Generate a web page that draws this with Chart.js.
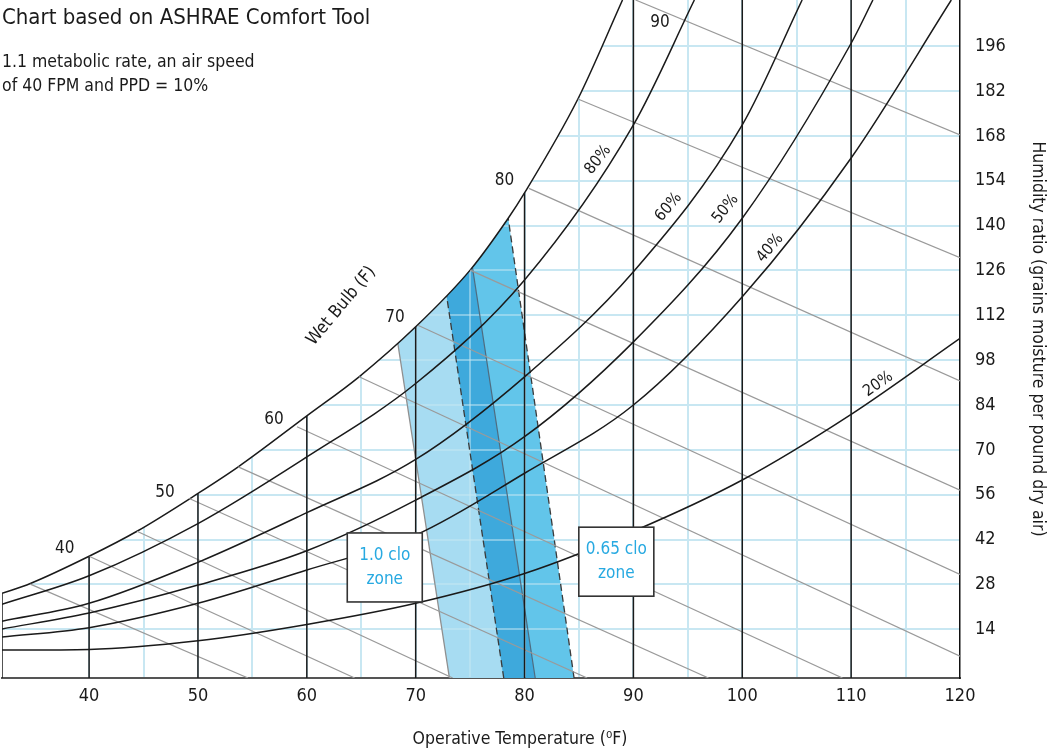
<!DOCTYPE html>
<html>
<head>
<meta charset="utf-8">
<title>Psychrometric chart - ASHRAE comfort zones</title>
<script src="https://cdn.jsdelivr.net/npm/chart.js@4.4.1/dist/chart.umd.min.js"></script>
<style>
  html, body { margin: 0; padding: 0; background: #fff; }
</style>
</head>
<body>
<canvas id="chart" width="1051" height="750"></canvas>
<script>
// axes: operative temperature (F) and humidity ratio (grains / lb dry air)
const xMin = 32, xMax = 120;
const yMin = -1.2, yMax = 210.4;
const xTickLabels = [40, 50, 60, 70, 80, 90, 100, 110, 120];
const xGridTicks = [40, 45, 50, 55, 60, 65, 70, 75, 80, 85, 90, 95, 100, 105, 110, 115, 120];
const yTickLabels = [14, 28, 42, 56, 70, 84, 98, 112, 126, 140, 154, 168, 182, 196];

// relative humidity curves, [temp, grains]
const saturation = [[32, 25.2], [34.6, 28.3], [40, 36.8], [44.4, 44.6], [50, 56.4], [53.7, 64.7], [60, 80.6],
  [64.8, 92.8], [70, 108.4], [75, 126.1], [78.5, 142.3], [80, 150.2], [84.9, 179.5], [89.0, 210.4]];
const rh80 = [[32, 21.8], [40, 30.7], [50, 47.0], [60, 67.8], [70, 90.7], [80, 123.0], [90, 171.4], [95.6, 210.4]];
const rh60 = [[32, 16.5], [40, 22.1], [50, 34.9], [60, 50.4], [70, 67.0], [80, 92.8], [90, 125.6], [100, 171.4], [105.5, 210.4]];
const rh50 = [[32, 14.1], [40, 19.1], [50, 27.8], [60, 38.5], [70, 54.3], [80, 74.1], [90, 103.7], [100, 142.3], [110, 196.9], [112, 210.4]];
const rh40 = [[32, 11.6], [40, 14.5], [50, 22.1], [60, 32.5], [70, 43.4], [80, 62.7], [90, 84.0], [100, 117.8], [110, 161.1], [119.2, 210.4]];
const rh20 = [[32, 7.5], [40, 7.7], [50, 10.4], [60, 15.5], [70, 22.1], [80, 31.4], [90, 44.6], [100, 60.6], [110, 81.1], [120, 104.8]];

// dry bulb lines, bottom up to the saturation curve
const dryBulbTemps = [32, 40, 50, 60, 70, 80, 90, 100, 110];
const dryBulbTops = [25.2, 36.8, 56.4, 80.6, 108.4, 150.2, 210.4, 210.4, 210.4];

// wet bulb lines 35..90 F, start on saturation, end on the bottom or right edge
const wetBulbStart = [[34.6, 28.1], [40, 36.8], [44.4, 44.6], [49.2, 54.8], [53.7, 64.7], [59.1, 77.2],
  [64.8, 92.8], [70.2, 108.9], [75.0, 126.1], [80.4, 151.6], [84.9, 179.5], [90.2, 210.4]];
const wetBulbEnd = [[54.6, -1.2], [64.4, -1.2], [73.4, -1.2], [85.75, -1.2], [96.9, -1.2], [109.2, -1.2],
  [120, 5.6], [120, 31.1], [120, 57.4], [120, 91.5], [120, 130.0], [120, 168.3]];

// comfort zones
const zone10 = [[73.1, -1.2], [68.36, 103.2], [70, 108.4], [75.16, 128.2], [80.98, -1.2]];
const zone065 = [[78.09, -1.2], [72.83, 118.3], [75, 126.1], [78.5, 142.3], [84.55, -1.2]];
const zoneBoth = [[78.09, -1.2], [72.83, 118.3], [75.16, 128.2], [80.98, -1.2]];
const edge10Left = [[73.1, -1.2], [68.36, 103.2]];
const edge10Right = [[80.98, -1.2], [75.16, 128.2]];
const edge065Left = [[78.09, -1.2], [72.83, 118.3]];
const edge065Right = [[84.55, -1.2], [78.5, 142.3]];

const FONT = "'Liberation Sans Narrow', 'DejaVu Sans Condensed', 'Liberation Sans', sans-serif";
const INK = '#1a1a1a';
const CLO = '#27a9e1';

const pts = arr => arr.map(([x, y]) => ({ x, y }));

function lineSet(data, color, width, order, extra) {
  return Object.assign({
    data: pts(data), borderColor: color, borderWidth: width, pointRadius: 0,
    fill: false, order: order, tension: 0
  }, extra || {});
}

const datasets = [];

// zones (bottom layer)
datasets.push(lineSet(zone10, 'transparent', 0, 40, { fill: 'shape', backgroundColor: '#a7dcf2' }));
datasets.push(lineSet(zone065, 'transparent', 0, 39, { fill: 'shape', backgroundColor: '#62c5ea' }));
datasets.push(lineSet(zoneBoth, 'transparent', 0, 38, { fill: 'shape', backgroundColor: '#3ea9dc' }));
const lastZone = datasets.length - 1;
datasets.push(lineSet(edge10Left, '#8f8f8f', 1.3, 35));
datasets.push(lineSet(edge10Right, '#4f6c80', 1.2, 35));
datasets.push(lineSet(edge065Left, '#3a3a3a', 1.3, 35, { borderDash: [7, 4] }));
datasets.push(lineSet(edge065Right, '#3a3a3a', 1.3, 35, { borderDash: [7, 4] }));

// saturation curve, white above it
datasets.push(lineSet(saturation, INK, 1.5, 30, {
  fill: 'end', backgroundColor: '#fff', cubicInterpolationMode: 'monotone'
}));

// wet bulb lines
wetBulbStart.forEach((s, i) => {
  datasets.push(lineSet([s, wetBulbEnd[i]], '#9a9a9a', 1.2, 20));
});

// dry bulb lines
dryBulbTemps.forEach((t, i) => {
  datasets.push(lineSet([[t, yMin], [t, dryBulbTops[i]]], INK, 1.5, 10));
});

// RH curves
[rh80, rh60, rh50, rh40, rh20].forEach(c => {
  datasets.push(lineSet(c, INK, 1.5, 10, { cubicInterpolationMode: 'monotone' }));
});

// text on the chart, anchored in data space
const wbLabels = ['40', '50', '60', '70', '80', '90'];
const wbLabelAt = [[37.76, 39.3], [46.97, 56.8], [56.99, 79.3], [68.09, 111.4], [78.15, 153.9], [92.44, 203.2]];
const rhLabels = [['80%', 86.76, 160.5, -52], ['60%', 93.24, 145.8, -50], ['50%', 98.46, 145.2, -52],
  ['40%', 102.55, 133.0, -50], ['20%', 112.48, 90.5, -35]];
const boxes = [['1.0 clo', 'zone', 67.16, 33.3], ['0.65 clo', 'zone', 88.43, 35.1]];

function say(ctx, text, x, y, size, deg, color, align) {
  ctx.save();
  ctx.translate(x, y);
  if (deg) ctx.rotate(deg * Math.PI / 180);
  ctx.font = size + 'px ' + FONT;
  ctx.fillStyle = color;
  ctx.textAlign = align || 'center';
  ctx.textBaseline = align ? 'alphabetic' : 'middle';
  ctx.fillText(text, 0, 0);
  ctx.restore();
}

// grid shows faintly through the comfort zones
const gridOverZones = {
  id: 'gridOverZones',
  afterDatasetDraw(chart, args) {
    if (args.index !== lastZone) return;
    const ctx = chart.ctx;
    ctx.save();
    ctx.globalAlpha = 0.5;
    chart.scales.x.drawGrid(chart.chartArea);
    chart.scales.y.drawGrid(chart.chartArea);
    ctx.restore();
  }
};

const notes = {
  id: 'notes',
  afterDatasetsDraw(chart) {
    const { ctx } = chart;
    const sx = chart.scales.x, sy = chart.scales.y;

    wbLabels.forEach((t, i) => {
      say(ctx, t, sx.getPixelForValue(wbLabelAt[i][0]), sy.getPixelForValue(wbLabelAt[i][1]), 17, 0, INK);
    });
    say(ctx, 'Wet Bulb (F)', sx.getPixelForValue(63.17), sy.getPixelForValue(114.9), 17.5, -50, INK);

    rhLabels.forEach(([t, x, y, deg]) => {
      say(ctx, t, sx.getPixelForValue(x), sy.getPixelForValue(y), 16, deg, INK);
    });

    boxes.forEach(([l1, l2, x, y]) => {
      const cx = sx.getPixelForValue(x), cy = sy.getPixelForValue(y);
      ctx.save();
      ctx.fillStyle = '#fff';
      ctx.strokeStyle = '#333';
      ctx.lineWidth = 1.6;
      ctx.fillRect(cx - 37.5, cy - 34.5, 75, 69);
      ctx.strokeRect(cx - 37.5, cy - 34.5, 75, 69);
      ctx.restore();
      say(ctx, l1, cx, cy - 12, 17, 0, CLO);
      say(ctx, l2, cx, cy + 12, 17, 0, CLO);
    });

    say(ctx, 'Chart based on ASHRAE Comfort Tool', 2, 24, 22, 0, INK, 'left');
    say(ctx, '1.1 metabolic rate, an air speed', 2, 67, 17.5, 0, INK, 'left');
    say(ctx, 'of 40 FPM and PPD = 10%', 2, 91, 17.5, 0, INK, 'left');
    say(ctx, 'Operative Temperature (\u2070F)', 520, 739, 17.5, 0, INK);
  }
};

const gridColor = '#c8e7f2';

new Chart(document.getElementById('chart'), {
  type: 'line',
  data: { datasets },
  options: {
    responsive: false,
    animation: false,
    events: [],
    layout: { padding: { left: 2, right: 0, top: 0, bottom: 0 }, autoPadding: false },
    plugins: { legend: { display: false }, tooltip: { enabled: false } },
    scales: {
      x: {
        type: 'linear', min: xMin, max: xMax,
        afterBuildTicks: s => { s.ticks = xGridTicks.map(v => ({ value: v })); },
        afterFit: s => { s.height = 72; s.paddingLeft = 0; s.paddingRight = 0; },
        ticks: {
          autoSkip: false, maxRotation: 0, padding: 8, color: INK,
          font: { family: FONT, size: 18 },
          callback: v => xTickLabels.includes(v) ? String(v) : ''
        },
        // the 120 line is the right-hand border, keep it black
        grid: {
          color: c => (c.tick && c.tick.value === xMax) ? 'transparent' : gridColor,
          lineWidth: 2, drawTicks: false
        },
        border: { color: '#555', width: 2 }
      },
      y: {
        type: 'linear', position: 'right', min: yMin, max: yMax,
        afterBuildTicks: s => { s.ticks = yTickLabels.map(v => ({ value: v })); },
        afterFit: s => { s.width = 91; s.paddingTop = 0; s.paddingBottom = 0; },
        ticks: { autoSkip: false, padding: 15, color: INK, font: { family: FONT, size: 18 } },
        grid: { color: gridColor, lineWidth: 2, drawTicks: false },
        border: { color: '#111', width: 1.5 },
        title: {
          display: true, text: 'Humidity ratio (grains moisture per pound dry air)', color: INK,
          font: { family: FONT, size: 17.5 }, padding: { top: 3, bottom: 0 }
        }
      }
    }
  },
  plugins: [gridOverZones, notes]
});
</script>
</body>
</html>
